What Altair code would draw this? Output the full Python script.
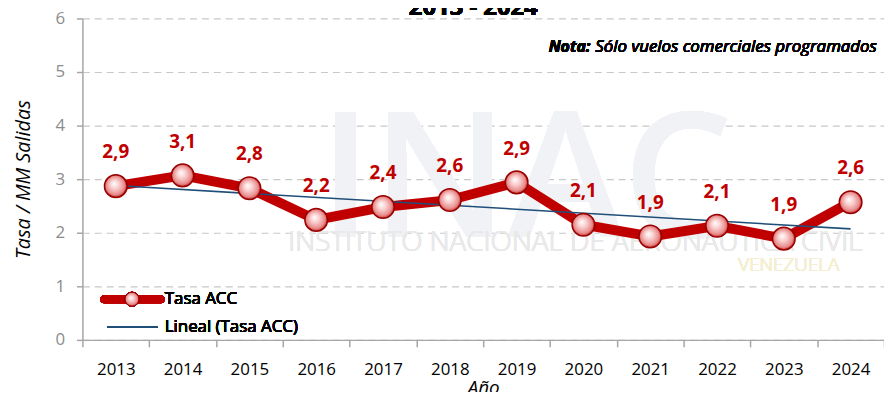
import altair as alt
import pandas as pd

anios = [2013, 2014, 2015, 2016, 2017, 2018, 2019, 2020, 2021, 2022, 2023, 2024]
tasa = [2.87, 3.07, 2.83, 2.24, 2.48, 2.61, 2.94, 2.15, 1.93, 2.13, 1.89, 2.57]
etiquetas = ["2,9", "3,1", "2,8", "2,2", "2,4", "2,6", "2,9", "2,1", "1,9", "2,1", "1,9", "2,6"]

df = pd.DataFrame({"anio": anios, "valor": tasa, "etiqueta": etiquetas})

FONT = "Open Sans"
RED = "#C00000"
BLUE = "#1F4E79"

ball = {
    "gradient": "radial",
    "x1": 0.42, "y1": 0.38, "r1": 0.0,
    "x2": 0.5, "y2": 0.5, "r2": 0.55,
    "stops": [
        {"offset": 0.0, "color": "#ffffff"},
        {"offset": 0.35, "color": "#f9cfcf"},
        {"offset": 0.75, "color": "#e88a8a"},
        {"offset": 1.0, "color": "#b00000"},
    ],
}

x_enc = alt.X(
    "anio:O",
    scale=alt.Scale(type="band", domain=anios, paddingInner=0, paddingOuter=0),
    axis=alt.Axis(
        title="Año", titleFont=FONT, titleFontSize=19, titleFontStyle="italic",
        titleFontWeight="normal", titleColor="#000000", titlePadding=1,
        labelFont=FONT, labelFontSize=17, labelColor="#000000", labelAngle=0,
        labelPadding=15, tickBand="extent", tickSize=7, tickColor="#a6a6a6",
        domainColor="#a6a6a6", domainWidth=1.5, tickWidth=1.5, grid=False,
    ),
)
y_enc = alt.Y(
    "valor:Q",
    scale=alt.Scale(domain=[0, 6], nice=False, zero=True),
    axis=alt.Axis(
        title="Tasa / MM Salidas", titleFont=FONT, titleFontSize=20,
        titleFontStyle="italic", titleFontWeight="normal", titleColor="#000000",
        titlePadding=22, values=[0, 1, 2, 3, 4, 5, 6], format="d", labelFont=FONT,
        labelFontSize=17, labelColor="#8c8c8c", labelPadding=12, tickSize=6,
        tickColor="#a6a6a6", domainColor="#a6a6a6", domainWidth=1.5,
        tickWidth=1.5, grid=True, gridColor="#c8c8c8", gridDash=[7, 5],
        gridWidth=1.2,
    ),
)

base = alt.Chart(df)

# faint watermark
wm1 = base.mark_text(text="INAC", font=FONT, fontSize=175, fontWeight=600,
                     color="#f0f2f6", align="center", baseline="alphabetic").encode(
    x=alt.value(447), y=alt.value(220))
wm2 = base.mark_text(text="INSTITUTO NACIONAL DE AERONÁUTICA CIVIL", font=FONT,
                     fontSize=28, fontWeight=300, color="#e9e9e9",
                     align="center", baseline="middle").encode(
    x=alt.value(497), y=alt.value(226))
wm3 = base.mark_text(text="VENEZUELA", font=FONT, fontSize=19, fontWeight=300,
                     color="#f4efcf", align="center", baseline="middle").encode(
    x=alt.value(712), y=alt.value(249))

linea = base.mark_line(color=RED, strokeWidth=10, strokeJoin="round").encode(x=x_enc, y=y_enc)

tendencia = base.transform_regression("anio", "valor", method="linear").mark_line(
    color=BLUE, strokeWidth=1.6).encode(x="anio:O", y="valor:Q")

puntos = base.mark_point(shape="circle", size=520, filled=True, fill=ball,
                         stroke="#9a0000", strokeWidth=1.5, opacity=1).encode(
    x="anio:O", y="valor:Q")

textos = base.mark_text(font=FONT, fontSize=19, fontWeight="bold", color=RED,
                        baseline="middle", dy=-34).encode(
    x="anio:O", y="valor:Q", text="etiqueta:N")

titulo = base.mark_text(text="2013 - 2024", font=FONT, fontSize=24, fontWeight="bold",
                        color="#000000", align="center", baseline="alphabetic").encode(
    x=alt.value(394), y=alt.value(-3))

nota1 = base.mark_text(text="Nota:", font=FONT, fontSize=16, fontWeight="bold",
                       fontStyle="italic", color="#000000", align="right",
                       baseline="middle").encode(x=alt.value(512), y=alt.value(29))
nota2 = base.mark_text(text="Sólo vuelos comerciales programados", font=FONT, fontSize=17,
                       fontStyle="italic", color="#000000", align="left",
                       baseline="middle").encode(x=alt.value(517), y=alt.value(29))

# legend
leg_line1 = base.mark_rule(color=RED, strokeWidth=8, strokeCap="round").encode(
    x=alt.value(22), x2=alt.value(79), y=alt.value(283))
leg_pt = base.mark_point(shape="circle", size=200, filled=True, fill=ball,
                         stroke="#9a0000", strokeWidth=1, opacity=1).encode(
    x=alt.value(50), y=alt.value(283))
leg_txt1 = base.mark_text(text="Tasa ACC", font=FONT, fontSize=17, color="#000000",
                          align="left", baseline="middle").encode(
    x=alt.value(83), y=alt.value(283))
leg_line2 = base.mark_rule(color=BLUE, strokeWidth=1.8).encode(
    x=alt.value(25), x2=alt.value(76), y=alt.value(311))
leg_txt2 = base.mark_text(text="Lineal (Tasa ACC)", font=FONT, fontSize=17, color="#000000",
                          align="left", baseline="middle").encode(
    x=alt.value(83), y=alt.value(311))

chart = alt.layer(
    wm1, wm2, wm3, linea, tendencia, puntos, textos, titulo, nota1, nota2,
    leg_line1, leg_pt, leg_txt1, leg_line2, leg_txt2,
).properties(
    width=808, height=324,
    autosize=alt.AutoSizeParams(type="none"),
    padding={"left": 75, "top": 9, "right": 0, "bottom": 51},
    background="#ffffff",
).configure_view(stroke=None)

chart.save("out.html", embed_options={"renderer": "svg", "actions": False})
